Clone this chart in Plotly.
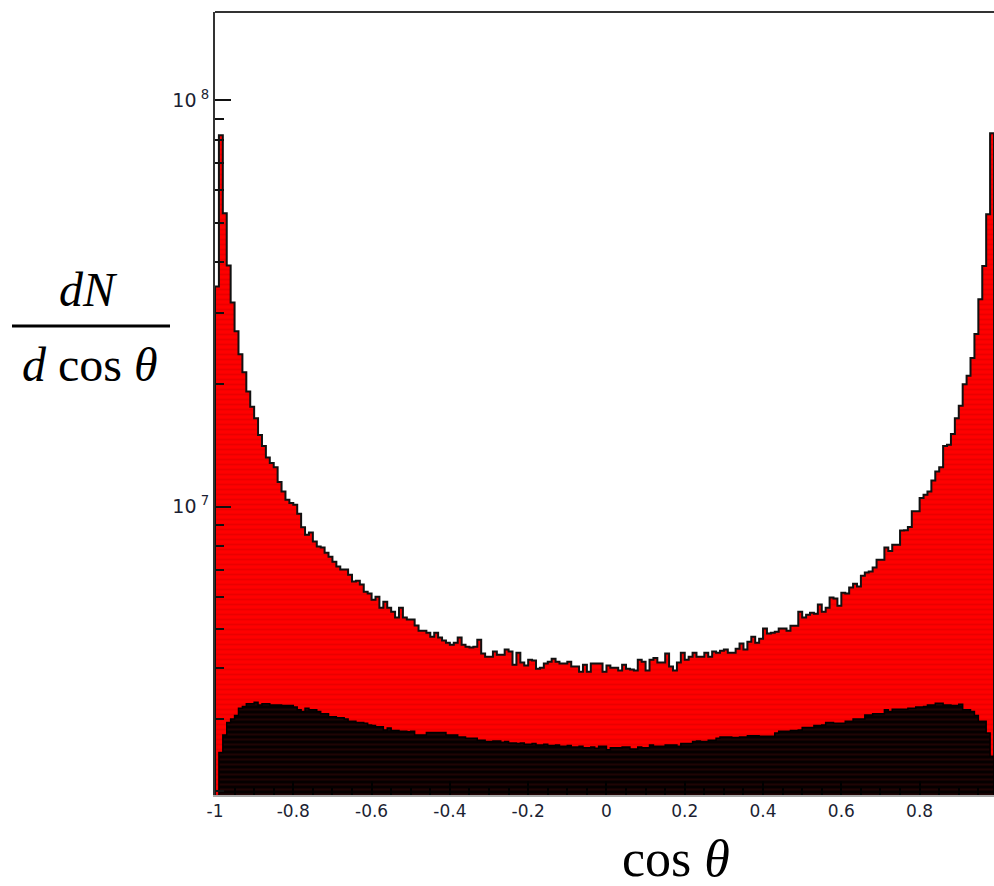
import numpy as np
import plotly.graph_objects as go

# ---------------- data (counts per bin, in units of 1e6) ----------------
bin_width = 0.01
x_start = -1.0
count_unit = 1e6

red_counts = [
    34.8, 82.0, 52.7, 39.2, 31.8, 27.0, 23.7, 21.4, 19.2, 17.6,
    16.5, 15.0, 14.1, 13.2, 12.8, 12.5, 11.5, 10.9, 10.4, 10.2,
    10.1, 9.6, 8.9, 8.53, 8.63, 8.20, 7.97, 7.93, 7.70, 7.53,
    7.32, 7.12, 7.00, 7.00, 6.80, 6.54, 6.57, 6.43, 6.17, 6.11,
    5.90, 6.00, 5.64, 5.83, 5.64, 5.51, 5.33, 5.64, 5.33, 5.27,
    5.27, 5.10, 4.95, 4.95, 4.89, 4.78, 4.89, 4.76, 4.68, 4.62,
    4.57, 4.62, 4.76, 4.57, 4.52, 4.50, 4.52, 4.70, 4.35, 4.27,
    4.27, 4.40, 4.32, 4.32, 4.45, 4.40, 4.08, 4.37, 4.13, 4.06,
    4.20, 4.18, 3.99, 4.01, 4.11, 4.15, 4.22, 4.15, 4.11, 4.11,
    4.15, 4.04, 4.04, 3.92, 4.08, 3.92, 4.11, 4.11, 4.11, 3.92,
    4.06, 4.01, 4.01, 3.95, 4.08, 3.99, 3.97, 3.95, 4.20, 4.15,
    3.95, 4.20, 4.24, 4.13, 4.13, 4.35, 4.04, 3.95, 4.13, 4.37,
    4.20, 4.27, 4.37, 4.27, 4.27, 4.37, 4.27, 4.40, 4.37, 4.42,
    4.45, 4.37, 4.37, 4.47, 4.60, 4.45, 4.65, 4.78, 4.62, 4.73,
    5.01, 4.87, 4.89, 4.92, 5.01, 5.01, 4.95, 5.09, 5.09, 5.51,
    5.33, 5.42, 5.48, 5.45, 5.74, 5.51, 5.64, 5.97, 5.94, 5.70,
    6.14, 6.11, 6.32, 6.46, 6.36, 6.76, 6.88, 6.92, 7.08, 7.40,
    7.40, 7.93, 7.77, 8.06, 8.06, 8.73, 8.74, 8.91, 9.74, 9.74,
    10.5, 10.7, 10.9, 11.6, 12.2, 12.5, 14.1, 14.2, 15.1, 16.5,
    17.7, 20.0, 21.0, 23.2, 26.6, 32.4, 39.1, 52.4, 83.0,
]

black_counts = [
    1.5, 2.48, 2.74, 2.94, 3.00, 3.06, 3.19, 3.22, 3.27, 3.27,
    3.30, 3.25, 3.27, 3.27, 3.25, 3.25, 3.25, 3.24, 3.24, 3.24,
    3.21, 3.16, 3.13, 3.19, 3.16, 3.16, 3.13, 3.09, 3.09, 3.04,
    3.04, 3.02, 3.02, 3.00, 2.96, 2.96, 2.94, 2.94, 2.93, 2.90,
    2.89, 2.87, 2.87, 2.82, 2.85, 2.81, 2.81, 2.80, 2.80, 2.79,
    2.80, 2.74, 2.74, 2.74, 2.78, 2.78, 2.78, 2.78, 2.78, 2.74,
    2.74, 2.74, 2.71, 2.71, 2.69, 2.69, 2.69, 2.66, 2.66, 2.64,
    2.64, 2.65, 2.65, 2.63, 2.64, 2.62, 2.62, 2.61, 2.62, 2.60,
    2.60, 2.61, 2.59, 2.59, 2.60, 2.58, 2.58, 2.59, 2.57, 2.57,
    2.58, 2.56, 2.56, 2.57, 2.55, 2.55, 2.56, 2.54, 2.57, 2.57,
    2.52, 2.55, 2.55, 2.55, 2.56, 2.56, 2.53, 2.53, 2.56, 2.55,
    2.55, 2.59, 2.57, 2.57, 2.57, 2.59, 2.59, 2.59, 2.57, 2.61,
    2.61, 2.61, 2.64, 2.65, 2.64, 2.64, 2.66, 2.66, 2.69, 2.71,
    2.71, 2.71, 2.70, 2.70, 2.71, 2.71, 2.73, 2.73, 2.73, 2.72,
    2.72, 2.72, 2.72, 2.77, 2.80, 2.80, 2.80, 2.81, 2.81, 2.82,
    2.86, 2.86, 2.86, 2.89, 2.89, 2.90, 2.94, 2.94, 2.93, 2.93,
    2.93, 2.96, 2.96, 3.00, 3.00, 3.00, 3.07, 3.07, 3.09, 3.09,
    3.09, 3.16, 3.13, 3.17, 3.17, 3.17, 3.17, 3.19, 3.19, 3.21,
    3.21, 3.22, 3.25, 3.25, 3.28, 3.28, 3.25, 3.25, 3.24, 3.24,
    3.26, 3.16, 3.16, 3.13, 3.06, 2.96, 2.96, 2.77, 2.43,
]

x_tick_vals = [-1, -0.8, -0.6, -0.4, -0.2, 0, 0.2, 0.4, 0.6, 0.8]
x_tick_text = ["-1", "-0.8", "-0.6", "-0.4", "-0.2", "0", "0.2", "0.4", "0.6", "0.8"]
y_tick_vals = [1e7, 1e8]
y_tick_text = ["10<sup> 7</sup>", "10<sup> 8</sup>"]

# ---------------- layout geometry ----------------
W, H = 994, 886
ML, MR, MT, MB = 215, 0, 12, 91
PW, PH = W - ML - MR, H - MT - MB
Y_MIN, Y_MAX = 1.95e6, 1.65e8
FLOOR = 1e5


def xp(px):
    return (px - ML) / PW


def yp(py):
    return (MT + PH - py) / PH


edges = x_start + bin_width * np.arange(len(red_counts) + 1)


def step_outline(vals):
    xs = [edges[0]]
    ys = [FLOOR]
    for i, v in enumerate(vals):
        xs.append(edges[i])
        ys.append(v * count_unit)
    xs.append(edges[len(vals)])
    ys.append(vals[-1] * count_unit)
    xs.append(edges[len(vals)])
    ys.append(FLOOR)
    return xs, ys


fig = go.Figure()

rx, ry = step_outline(red_counts)
fig.add_trace(go.Scatter(
    x=rx, y=ry, mode="lines", line=dict(shape="hv", color="#111111", width=2),
    fill="toself", fillcolor="#ff0000",
    fillpattern=dict(shape="-", fgcolor="#d60000", bgcolor="#ff0000", size=5, solidity=0.35),
    hoverinfo="skip", showlegend=False,
))

bx, by = step_outline(black_counts)
fig.add_trace(go.Scatter(
    x=bx, y=by, mode="lines", line=dict(shape="hv", color="#000000", width=1.5),
    fill="toself", fillcolor="#000000",
    fillpattern=dict(shape="-", fgcolor="#3a0808", bgcolor="#050000", size=5, solidity=0.4),
    hoverinfo="skip", showlegend=False,
))

fig.update_layout(
    width=W, height=H,
    margin=dict(l=ML, r=MR, t=MT, b=MB, pad=0),
    paper_bgcolor="white", plot_bgcolor="white",
    showlegend=False,
    xaxis=dict(
        range=[edges[0], edges[-1]],
        tickmode="array", tickvals=x_tick_vals, ticktext=x_tick_text,
        ticks="inside", ticklen=14, tickwidth=1.5, tickcolor="#000000",
        minor=dict(dtick=0.05, tick0=0, ticks="inside", ticklen=7, tickcolor="#000000", showgrid=False),
        showgrid=False, zeroline=False,
        showline=True, linecolor="#a8a8a8", linewidth=2,
        tickfont=dict(family="DejaVu Sans", size=17, color="#1c1f33"),
    ),
    yaxis=dict(
        type="log",
        range=[np.log10(Y_MIN), np.log10(Y_MAX)],
        tickmode="array", tickvals=y_tick_vals, ticktext=y_tick_text,
        ticks="inside", ticklen=16, tickwidth=1.5, tickcolor="#111111",
        minor=dict(tickmode="array",
                   tickvals=[k * 10.0 ** e for e in (6, 7, 8) for k in range(2, 10)],
                   ticks="inside", ticklen=9, tickwidth=1.5, tickcolor="#111111", showgrid=False),
        showgrid=False, zeroline=False,
        showline=True, linecolor="#333333", linewidth=2,
        tickfont=dict(family="DejaVu Sans", size=19, color="#1c1f33"),
    ),
    shapes=[
        dict(type="line", xref="paper", yref="paper", x0=0, x1=1, y0=1, y1=1,
             line=dict(color="#333333", width=2)),
        dict(type="line", xref="paper", yref="paper", x0=xp(12), x1=xp(170), y0=yp(326), y1=yp(326),
             line=dict(color="#000000", width=3)),
    ],
    annotations=[
        dict(text="<i>dN</i>", xref="paper", yref="paper", x=xp(88), y=yp(289),
             xanchor="center", yanchor="middle", showarrow=False,
             font=dict(family="Liberation Serif", size=48, color="#000000")),
        dict(text="<i>d</i> cos <i>θ</i>", xref="paper", yref="paper", x=xp(90), y=yp(364),
             xanchor="center", yanchor="middle", showarrow=False,
             font=dict(family="Liberation Serif", size=48, color="#000000")),
        dict(text="cos <i>θ</i>", xref="paper", yref="paper", x=xp(676), y=yp(858),
             xanchor="center", yanchor="middle", showarrow=False,
             font=dict(family="Liberation Serif", size=52, color="#000000")),
    ],
)

fig.write_html(
    "out.html",
    config={"displayModeBar": False},
    post_script="document.documentElement.style.margin='0';document.body.style.margin='0';"
                "document.documentElement.style.overflow='hidden';document.body.style.overflow='hidden';",
)
